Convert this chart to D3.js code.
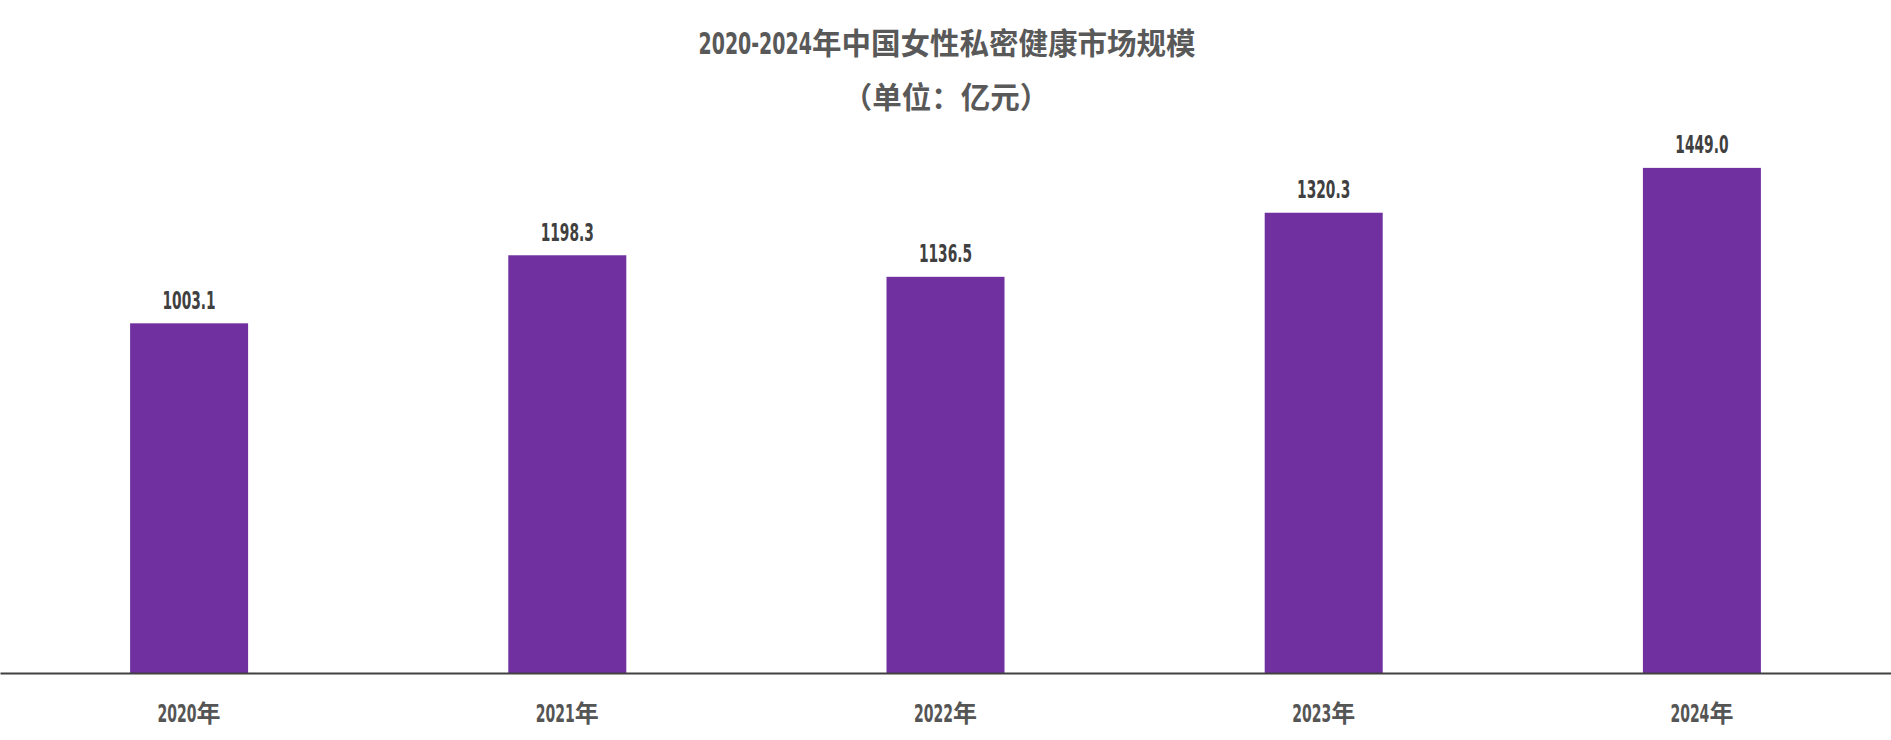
<!DOCTYPE html>
<html><head><meta charset="utf-8">
<script src="https://cdn.jsdelivr.net/npm/d3@7"></script>
<style>body{margin:0;background:#fff;overflow:hidden}</style>
</head><body><svg id="c"></svg>
<script>
const years = ["2020年","2021年","2022年","2023年","2024年"];
const values = [1003.1, 1198.3, 1136.5, 1320.3, 1449.0];
const valueLabels = ["1003.1","1198.3","1136.5","1320.3","1449.0"];
const titleText = "2020-2024年中国女性私密健康市场规模";
const subtitleText = "（单位：亿元）";

const W = 1891, H = 740;
const svg = d3.select("#c").attr("width", W).attr("height", H);
const LATIN = "'DejaVu Sans Condensed','DejaVu Sans',sans-serif";
const CJK = "'Noto Sans CJK SC','Noto Sans CJK JP',sans-serif";

// measure helper
const meas = svg.append("text").attr("font-family", LATIN).attr("font-weight", "bold").attr("opacity", 0);
function zeroWidth(size) { meas.attr("font-size", size).text("0"); return meas.node().getComputedTextLength(); }

// draws text made of latin (condensed) runs and CJK runs, centred at cx, baseline y
function mixed(parent, str, o) {
  const runs = str.match(/[\x00-\x7F]+|[^\x00-\x7F]+/g);
  const grp = parent.append("g").attr("text-anchor", "start");
  const sxLatin = o.digitEm * o.size / zeroWidth(o.size);
  const items = runs.map(r => {
    const latin = /^[\x00-\x7F]/.test(r);
    const t = grp.append("text").text(r)
      .attr("text-anchor", "start")
      .attr("font-family", latin ? LATIN : CJK)
      .attr("font-weight", "bold")
      .attr("font-size", latin ? o.size : o.cjkSize)
      .attr("fill", o.fill);
    const sx = latin ? sxLatin : 1;
    return { t, sx, w: t.node().getComputedTextLength() * sx };
  });
  const total = d3.sum(items, d => d.w);
  let cur = o.cx - total / 2;
  items.forEach(d => { d.t.attr("transform", `translate(${cur},${o.y}) scale(${d.sx},1)`); cur += d.w; });
  return grp;
}

const x = d3.scaleBand().domain(years).range([0, W]).paddingInner(0.688).paddingOuter(0.344);
const y = d3.scaleLinear().domain([0, 1600]).range([673, 673 - 1600 * 0.3486]);

// bars
svg.append("g").selectAll("rect").data(values).join("rect")
  .attr("x", (d, i) => x(years[i]))
  .attr("width", x.bandwidth())
  .attr("y", d => y(d))
  .attr("height", d => y(0) - y(d))
  .attr("fill", "#7030A0");

// value labels
values.forEach((v, i) => {
  mixed(svg, valueLabels[i], { cx: x(years[i]) + x.bandwidth() / 2, y: y(v) - 14.5, size: 24, cjkSize: 24, digitEm: 0.40, fill: "#404040" });
});

// axis
const ax = svg.append("g").attr("transform", `translate(0,${y(0)})`)
  .call(d3.axisBottom(x).tickSize(0).tickSizeOuter(0));
ax.select(".domain").attr("stroke", "#404040").attr("stroke-width", 2);
ax.selectAll(".tick").each(function (d) {
  const g = d3.select(this);
  g.select("text").remove();
  mixed(g, d, { cx: 0, y: 49, size: 25, cjkSize: 24, digitEm: 0.39, fill: "#555555" });
});

// titles
mixed(svg, titleText, { cx: 947, y: 54, size: 30, cjkSize: 29.5, digitEm: 0.44, fill: "#595959" });
mixed(svg, subtitleText, { cx: 946, y: 108, size: 30, cjkSize: 29.5, digitEm: 0.44, fill: "#595959" });
meas.remove();
</script>
</body></html>
